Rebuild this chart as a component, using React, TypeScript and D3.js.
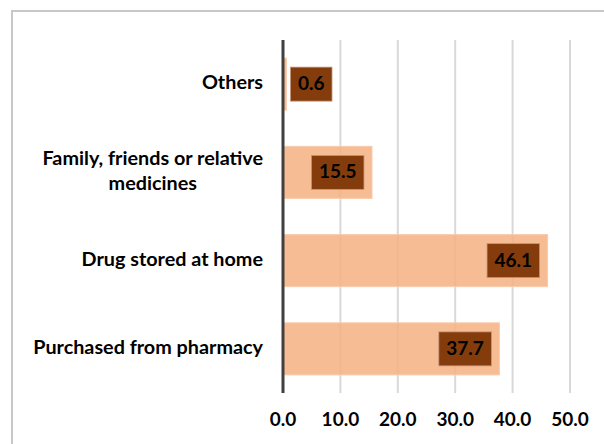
import React, { useEffect, useRef } from "react";
import * as d3 from "d3";

const categories = ["Others", "Family, friends or relative|medicines", "Drug stored at home", "Purchased from pharmacy"];
const values = [0.6, 15.5, 46.1, 37.7];
const tickValues = [0, 10, 20, 30, 40, 50];

const W = 604;
const H = 444;
const FONT = "Lato, 'Liberation Sans', sans-serif";

export default function App() {
  const ref = useRef<SVGSVGElement | null>(null);
  useEffect(() => {
    const svg = d3.select(ref.current);
    svg.selectAll("*").remove();

    // frame
    svg.append("rect").attr("x", 12).attr("y", 11).attr("width", W + 20).attr("height", H + 20)
      .attr("fill", "#fff").attr("stroke", "#c8c8c8").attr("stroke-width", 2);

    const x = d3.scaleLinear().domain([0, 50]).range([283, 570]);
    const y = d3.scaleBand().domain(categories).range([40, 393]).paddingInner(0.41).paddingOuter(0.205);

    const g = svg.append("g");
    // gridlines
    g.selectAll("line.grid").data(tickValues.slice(1)).join("line")
      .attr("x1", d => x(d)).attr("x2", d => x(d)).attr("y1", 40).attr("y2", 393)
      .attr("stroke", "#d9d9d9").attr("stroke-width", 2);

    // bars
    g.selectAll("rect.bar").data(values).join("rect")
      .attr("x", x(0)).attr("y", (_, i) => y(categories[i])!)
      .attr("width", d => x(d) - x(0)).attr("height", y.bandwidth())
      .attr("fill", "#F4B183").attr("fill-opacity", 0.85)
      .attr("stroke", "#F8CBAD").attr("stroke-width", 1);

    // axis line
    g.append("line").attr("x1", x(0)).attr("x2", x(0)).attr("y1", 40).attr("y2", 393)
      .attr("stroke", "#404040").attr("stroke-width", 3);

    // tick labels
    g.selectAll("text.tick").data(tickValues).join("text")
      .attr("x", d => x(d)).attr("y", 421).attr("text-anchor", "middle").attr("dominant-baseline", "middle")
      .attr("font-family", FONT).attr("font-weight", "bold").attr("font-size", 19).attr("fill", "#000")
      .text(d => d3.format(".1f")(d));

    // category labels
    categories.forEach((c, i) => {
      const lines = c.split("|");
      const cy = y(c)! + y.bandwidth() / 2;
      const lh = 25;
      const t = g.append("text").attr("font-family", FONT).attr("font-weight", "bold")
        .attr("font-size", 19.8).attr("fill", "#000").attr("dominant-baseline", "middle");
      const tspans = lines.map((l, j) =>
        t.append("tspan").attr("y", cy + (j - (lines.length - 1) / 2) * lh).text(l));
      const widths = tspans.map(ts => (ts.node() as SVGTSpanElement).getComputedTextLength());
      const maxW = Math.max(...widths);
      const right = 263;
      if (lines.length === 1) {
        tspans[0].attr("x", right).attr("text-anchor", "end");
      } else {
        tspans.forEach(ts => ts.attr("x", right - maxW / 2).attr("text-anchor", "middle"));
      }
    });

    // data labels
    values.forEach((v, i) => {
      const cy = y(categories[i])! + y.bandwidth() / 2;
      const txt = d3.format(".1f")(v);
      const lab = g.append("g");
      const t = lab.append("text").attr("font-family", FONT).attr("font-weight", "bold")
        .attr("font-size", 19).attr("fill", "#000").attr("dominant-baseline", "middle")
        .attr("text-anchor", "middle").text(txt);
      const tw = (t.node() as SVGTextElement).getComputedTextLength();
      const bw = tw + 15;
      const bh = 34;
      const end = x(v);
      let bx = end - 8 - bw;
      if (bx < x(0) + 4) bx = end + 4;
      lab.insert("rect", "text").attr("x", bx).attr("y", cy - bh / 2).attr("width", bw).attr("height", bh)
        .attr("fill", "#843C0C").attr("stroke", "#c9967a").attr("stroke-width", 0.8);
      t.attr("x", bx + bw / 2).attr("y", cy + 1);
    });
  }, []);

  return (
    <div style={{ position: "absolute", left: 0, top: 0 }}>
      <svg ref={ref} width={W} height={H} style={{ display: "block", background: "#fff" }} />
    </div>
  );
}
